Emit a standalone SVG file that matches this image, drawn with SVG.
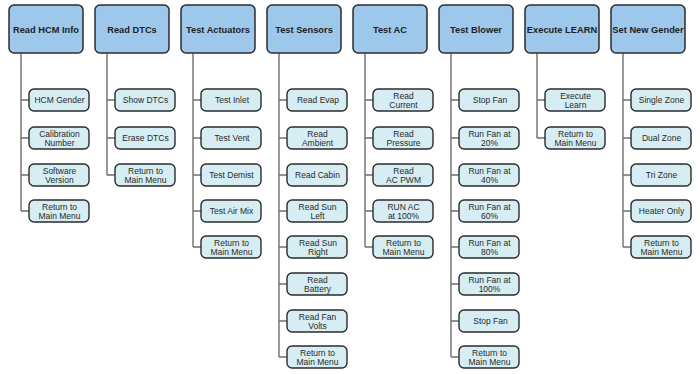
<svg xmlns="http://www.w3.org/2000/svg" width="700" height="374" viewBox="0 0 700 374">
<style>
.hd{fill:#9dc8eb;stroke:#2b2b2b;stroke-width:1.5}
.ch{fill:#d5edf3;stroke:#2b2b2b;stroke-width:1.4}
.ht{font-family:"Liberation Sans",Arial,sans-serif;font-weight:bold;font-size:9.3px;fill:#1e1e1e;text-anchor:middle}
.ct{font-family:"Liberation Sans",Arial,sans-serif;font-size:8.5px;fill:#2a2a2a;text-anchor:middle}
.cn{fill:none;stroke:#6e6e6e;stroke-width:1.4}
</style>
<rect width="700" height="374" fill="#ffffff"/>
<g id="connectors" class="cn">
<path d="M21 53V211M21 100H29M21 138H29M21 175H29M21 211H29"/>
<path d="M107 53V175M107 100H115M107 138H115M107 175H115"/>
<path d="M193 53V247M193 100H201M193 138H201M193 175H201M193 211H201M193 247H201"/>
<path d="M279 53V357M279 100H287M279 138H287M279 175H287M279 211H287M279 247H287M279 284H287M279 321H287M279 357H287"/>
<path d="M365 53V247M365 100H373M365 138H373M365 175H373M365 211H373M365 247H373"/>
<path d="M451 53V357M451 100H459M451 138H459M451 175H459M451 211H459M451 247H459M451 284H459M451 321H459M451 357H459"/>
<path d="M537 53V138M537 100H545M537 138H545"/>
<path d="M623 53V247M623 100H631M623 138H631M623 175H631M623 211H631M623 247H631"/>
</g>
<g id="col0">
<g id="n0"><rect class="hd" x="9" y="5" width="74" height="48" rx="5"/><text class="ht" x="46" y="32.5">Read HCM Info</text></g>
<g id="n0_1"><rect class="ch" x="29" y="89" width="60" height="22" rx="5"/><text class="ct" x="59.5" y="103">HCM Gender</text></g>
<g id="n0_2"><rect class="ch" x="29" y="127" width="60" height="22" rx="5"/><text class="ct" x="59.5" y="136.6">Calibration</text><text class="ct" x="59.5" y="146.3">Number</text></g>
<g id="n0_3"><rect class="ch" x="29" y="164" width="60" height="22" rx="5"/><text class="ct" x="59.5" y="173.6">Software</text><text class="ct" x="59.5" y="183.3">Version</text></g>
<g id="n0_4"><rect class="ch" x="29" y="200" width="60" height="22" rx="5"/><text class="ct" x="59.5" y="209.6">Return to</text><text class="ct" x="59.5" y="219.3">Main Menu</text></g>
</g>
<g id="col1">
<g id="n1"><rect class="hd" x="95" y="5" width="74" height="48" rx="5"/><text class="ht" x="132" y="32.5">Read DTCs</text></g>
<g id="n1_1"><rect class="ch" x="115" y="89" width="60" height="22" rx="5"/><text class="ct" x="145.5" y="103">Show DTCs</text></g>
<g id="n1_2"><rect class="ch" x="115" y="127" width="60" height="22" rx="5"/><text class="ct" x="145.5" y="141">Erase DTCs</text></g>
<g id="n1_3"><rect class="ch" x="115" y="164" width="60" height="22" rx="5"/><text class="ct" x="145.5" y="173.6">Return to</text><text class="ct" x="145.5" y="183.3">Main Menu</text></g>
</g>
<g id="col2">
<g id="n2"><rect class="hd" x="181" y="5" width="74" height="48" rx="5"/><text class="ht" x="218" y="32.5">Test Actuators</text></g>
<g id="n2_1"><rect class="ch" x="201" y="89" width="60" height="22" rx="5"/><text class="ct" x="232" y="103">Test Inlet</text></g>
<g id="n2_2"><rect class="ch" x="201" y="127" width="60" height="22" rx="5"/><text class="ct" x="232" y="141">Test Vent</text></g>
<g id="n2_3"><rect class="ch" x="201" y="164" width="60" height="22" rx="5"/><text class="ct" x="231.5" y="178">Test Demist</text></g>
<g id="n2_4"><rect class="ch" x="201" y="200" width="60" height="22" rx="5"/><text class="ct" x="231.5" y="214">Test Air Mix</text></g>
<g id="n2_5"><rect class="ch" x="201" y="236" width="60" height="22" rx="5"/><text class="ct" x="231.5" y="245.6">Return to</text><text class="ct" x="231.5" y="255.3">Main Menu</text></g>
</g>
<g id="col3">
<g id="n3"><rect class="hd" x="267" y="5" width="74" height="48" rx="5"/><text class="ht" x="304" y="32.5">Test Sensors</text></g>
<g id="n3_1"><rect class="ch" x="287" y="89" width="60" height="22" rx="5"/><text class="ct" x="318" y="103">Read Evap</text></g>
<g id="n3_2"><rect class="ch" x="287" y="127" width="60" height="22" rx="5"/><text class="ct" x="317.5" y="136.6">Read</text><text class="ct" x="317.5" y="146.3">Ambient</text></g>
<g id="n3_3"><rect class="ch" x="287" y="164" width="60" height="22" rx="5"/><text class="ct" x="317.5" y="178">Read Cabin</text></g>
<g id="n3_4"><rect class="ch" x="287" y="200" width="60" height="22" rx="5"/><text class="ct" x="317.5" y="209.6">Read Sun</text><text class="ct" x="317.5" y="219.3">Left</text></g>
<g id="n3_5"><rect class="ch" x="287" y="236" width="60" height="22" rx="5"/><text class="ct" x="318" y="245.6">Read Sun</text><text class="ct" x="318" y="255.3">Right</text></g>
<g id="n3_6"><rect class="ch" x="287" y="273" width="60" height="22" rx="5"/><text class="ct" x="317.5" y="282.6">Read</text><text class="ct" x="317.5" y="292.3">Battery</text></g>
<g id="n3_7"><rect class="ch" x="287" y="310" width="60" height="22" rx="5"/><text class="ct" x="317.5" y="319.6">Read Fan</text><text class="ct" x="317.5" y="329.3">Volts</text></g>
<g id="n3_8"><rect class="ch" x="287" y="346" width="60" height="22" rx="5"/><text class="ct" x="317.5" y="355.6">Return to</text><text class="ct" x="317.5" y="365.3">Main Menu</text></g>
</g>
<g id="col4">
<g id="n4"><rect class="hd" x="353" y="5" width="74" height="48" rx="5"/><text class="ht" x="390" y="32.5">Test AC</text></g>
<g id="n4_1"><rect class="ch" x="373" y="89" width="60" height="22" rx="5"/><text class="ct" x="403.5" y="98.6">Read</text><text class="ct" x="403.5" y="108.3">Current</text></g>
<g id="n4_2"><rect class="ch" x="373" y="127" width="60" height="22" rx="5"/><text class="ct" x="403.5" y="136.6">Read</text><text class="ct" x="403.5" y="146.3">Pressure</text></g>
<g id="n4_3"><rect class="ch" x="373" y="164" width="60" height="22" rx="5"/><text class="ct" x="403.5" y="173.6">Read</text><text class="ct" x="403.5" y="183.3">AC PWM</text></g>
<g id="n4_4"><rect class="ch" x="373" y="200" width="60" height="22" rx="5"/><text class="ct" x="403.5" y="209.6">RUN AC</text><text class="ct" x="403.5" y="219.3">at 100%</text></g>
<g id="n4_5"><rect class="ch" x="373" y="236" width="60" height="22" rx="5"/><text class="ct" x="403.5" y="245.6">Return to</text><text class="ct" x="403.5" y="255.3">Main Menu</text></g>
</g>
<g id="col5">
<g id="n5"><rect class="hd" x="439" y="5" width="74" height="48" rx="5"/><text class="ht" x="476" y="32.5">Test Blower</text></g>
<g id="n5_1"><rect class="ch" x="459" y="89" width="60" height="22" rx="5"/><text class="ct" x="490" y="103">Stop Fan</text></g>
<g id="n5_2"><rect class="ch" x="459" y="127" width="60" height="22" rx="5"/><text class="ct" x="489.5" y="136.6">Run Fan at</text><text class="ct" x="489.5" y="146.3">20%</text></g>
<g id="n5_3"><rect class="ch" x="459" y="164" width="60" height="22" rx="5"/><text class="ct" x="489.5" y="173.6">Run Fan at</text><text class="ct" x="489.5" y="183.3">40%</text></g>
<g id="n5_4"><rect class="ch" x="459" y="200" width="60" height="22" rx="5"/><text class="ct" x="489.5" y="209.6">Run Fan at</text><text class="ct" x="489.5" y="219.3">60%</text></g>
<g id="n5_5"><rect class="ch" x="459" y="236" width="60" height="22" rx="5"/><text class="ct" x="489.5" y="245.6">Run Fan at</text><text class="ct" x="489.5" y="255.3">80%</text></g>
<g id="n5_6"><rect class="ch" x="459" y="273" width="60" height="22" rx="5"/><text class="ct" x="489.5" y="282.6">Run Fan at</text><text class="ct" x="489.5" y="292.3">100%</text></g>
<g id="n5_7"><rect class="ch" x="459" y="310" width="60" height="22" rx="5"/><text class="ct" x="490.5" y="324">Stop Fan</text></g>
<g id="n5_8"><rect class="ch" x="459" y="346" width="60" height="22" rx="5"/><text class="ct" x="489.5" y="355.6">Return to</text><text class="ct" x="489.5" y="365.3">Main Menu</text></g>
</g>
<g id="col6">
<g id="n6"><rect class="hd" x="525" y="5" width="74" height="48" rx="5"/><text class="ht" x="562" y="32.5">Execute LEARN</text></g>
<g id="n6_1"><rect class="ch" x="545" y="89" width="60" height="22" rx="5"/><text class="ct" x="575.5" y="98.6">Execute</text><text class="ct" x="575.5" y="108.3">Learn</text></g>
<g id="n6_2"><rect class="ch" x="545" y="127" width="60" height="22" rx="5"/><text class="ct" x="575.5" y="136.6">Return to</text><text class="ct" x="575.5" y="146.3">Main Menu</text></g>
</g>
<g id="col7">
<g id="n7"><rect class="hd" x="611" y="5" width="74" height="48" rx="5"/><text class="ht" x="648" y="32.5">Set New Gender</text></g>
<g id="n7_1"><rect class="ch" x="631" y="89" width="60" height="22" rx="5"/><text class="ct" x="661.5" y="103">Single Zone</text></g>
<g id="n7_2"><rect class="ch" x="631" y="127" width="60" height="22" rx="5"/><text class="ct" x="661.5" y="141">Dual Zone</text></g>
<g id="n7_3"><rect class="ch" x="631" y="164" width="60" height="22" rx="5"/><text class="ct" x="661.5" y="178">Tri Zone</text></g>
<g id="n7_4"><rect class="ch" x="631" y="200" width="60" height="22" rx="5"/><text class="ct" x="661.5" y="214">Heater Only</text></g>
<g id="n7_5"><rect class="ch" x="631" y="236" width="60" height="22" rx="5"/><text class="ct" x="661.5" y="245.6">Return to</text><text class="ct" x="661.5" y="255.3">Main Menu</text></g>
</g>
</svg>
